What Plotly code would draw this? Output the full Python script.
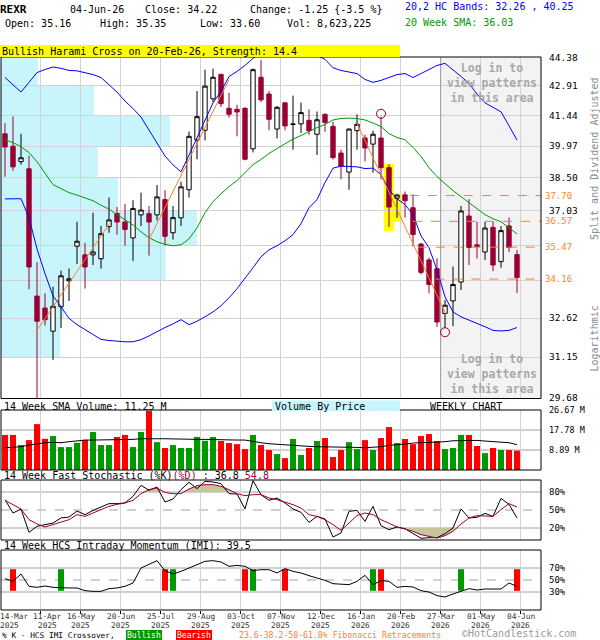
import numpy as np
import plotly.graph_objects as go

# ------------------------------------------------------------------ data
symbol = "REXR"
tick_labels = ["14-Mar", "11-Apr", "16-May", "20-Jun", "25-Jul", "29-Aug", "03-Oct",
               "07-Nov", "12-Dec", "16-Jan", "20-Feb", "27-Mar", "01-May", "04-Jun"]
tick_years = ["2025"] * 9 + ["2026"] * 5
tick_weeks = [0, 4, 9, 14, 19, 24, 29, 34, 39, 44, 49, 54, 59, 64]

open_ = [40.55, 39.96, 39.24, 38.91, 33.48, 33.01, 32.12, 33.06, 34.09, 35.51,
         35.15, 35.15, 34.99, 36.34, 36.91, 36.54, 35.86, 36.85, 36.90, 36.85,
         37.52, 36.08, 36.72, 37.96, 40.26, 40.72, 42.26, 43.50, 41.79, 41.74,
         41.79, 39.84, 43.35, 42.50, 40.78, 42.06, 41.00, 41.03, 41.20, 40.53,
         41.49, 40.91, 39.64, 38.76, 40.70, 40.35, 40.06, 40.35, 38.96, 37.58,
         37.73, 37.16, 35.60, 34.94, 34.58, 32.80, 33.29, 34.04, 36.80, 35.57,
         35.27, 36.31, 34.87, 36.37, 35.16]
high = [41.06, 41.39, 40.55, 39.52, 34.85, 33.59, 33.85, 34.50, 34.59, 36.55,
        35.65, 36.94, 36.37, 37.61, 37.19, 37.33, 37.49, 37.83, 37.24, 38.17,
        37.94, 37.24, 38.32, 40.66, 42.65, 43.74, 43.79, 43.52, 42.56, 41.96,
        41.85, 43.80, 44.23, 42.65, 41.90, 42.10, 42.42, 42.07, 41.73, 41.63,
        41.55, 41.13, 39.80, 40.80, 41.49, 40.50, 40.70, 41.38, 39.11, 37.76,
        37.88, 37.76, 35.65, 35.04, 35.01, 33.33, 34.67, 37.24, 37.54, 36.55,
        36.55, 36.55, 36.37, 36.73, 35.35]
low = [38.55, 38.82, 39.10, 33.75, 29.50, 32.34, 31.05, 32.24, 33.29, 34.77,
       33.78, 34.73, 34.58, 36.08, 36.00, 35.53, 34.90, 36.37, 35.12, 36.61,
       35.55, 35.79, 36.37, 37.61, 39.35, 40.24, 42.10, 41.86, 41.34, 40.43,
       39.30, 39.67, 42.10, 40.72, 40.33, 40.72, 39.80, 40.59, 40.50, 39.55,
       40.65, 39.34, 38.43, 37.96, 39.80, 39.25, 38.73, 38.43, 36.33, 36.73,
       36.73, 35.50, 34.34, 33.59, 32.28, 32.24, 32.31, 33.72, 34.73, 35.00,
       34.94, 34.48, 34.62, 35.27, 33.60]
close = [39.92, 39.00, 39.42, 34.65, 32.50, 32.56, 33.08, 34.29, 34.17, 35.72,
         34.65, 35.27, 36.04, 36.63, 36.54, 36.22, 37.13, 37.06, 36.54, 37.64,
         35.93, 36.73, 38.09, 40.43, 41.38, 42.90, 43.35, 42.02, 41.50, 41.61,
         39.35, 43.74, 42.21, 41.25, 41.84, 40.93, 41.02, 41.58, 40.70, 41.23,
         41.10, 39.43, 39.03, 40.78, 41.01, 39.88, 40.53, 38.96, 37.19, 37.72,
         37.47, 36.00, 34.43, 33.94, 32.47, 33.12, 33.94, 37.02, 35.46, 35.49,
         36.28, 34.73, 36.17, 35.46, 34.22]

volume_m = [15.6, 15.6, 11.1, 13.3, 20.4, 13.9, 15.1, 10.2, 10.2, 12.1,
            13.3, 16.9, 11.1, 11.1, 14.7, 15.6, 10.2, 16.9, 26.3, 12.4,
            9.8, 11.1, 9.8, 9.8, 14.7, 13.0, 14.7, 12.9, 12.0, 11.5,
            9.3, 15.6, 11.1, 8.9, 7.1, 5.3, 13.8, 6.7, 9.8, 12.9,
            14.2, 5.8, 8.9, 12.4, 9.3, 13.3, 8.9, 14.2, 19.1, 12.0,
            13.8, 11.5, 15.1, 16.0, 12.9, 9.3, 9.8, 15.6, 15.6, 10.7,
            7.5, 9.8, 8.9, 8.9, 8.62]
volume_sma_m = [9.92, 10.06, 10.36, 11.10, 11.69, 12.14, 12.28, 12.14, 12.58, 13.02,
                13.32, 13.32, 13.32, 13.32, 13.32, 13.47, 13.62, 13.91, 14.06, 13.91,
                13.91, 13.76, 13.62, 13.62, 13.62, 13.62, 13.47, 13.32, 13.32, 13.32,
                13.32, 12.58, 12.14, 11.69, 11.40, 11.40, 11.10, 10.80, 10.51, 10.36,
                10.36, 10.36, 10.21, 10.06, 10.06, 9.92, 10.06, 10.36, 10.95, 11.10,
                11.54, 11.99, 12.14, 12.28, 12.28, 12.58, 13.02, 13.17, 13.17, 13.17,
                12.88, 12.58, 12.43, 12.14, 11.25]

hc_upper = [43.34, 42.97, 42.60, 43.09, 43.59, 43.75, 43.88, 43.81, 43.70, 43.68,
            43.59, 43.49, 43.34, 42.99, 42.60, 42.15, 41.78, 41.36, 40.71, 40.09,
            39.50, 39.09, 38.77, 39.54, 40.37, 41.28, 42.06, 42.64, 43.39, 43.65,
            43.96, 44.33, 44.60, 44.90, 45.10, 45.20, 45.10, 44.90, 44.70, 44.50,
            44.28, 43.84, 43.70, 43.62, 43.54, 43.24, 43.09, 43.19, 43.34, 43.49,
            43.54, 43.34, 43.54, 43.75, 43.96, 44.07, 43.75, 43.39, 43.04, 42.50,
            42.06, 41.86, 41.62, 40.94, 40.25]
hc_lower = [37.55, 37.54, 37.56, 36.72, 35.40, 34.38, 33.49, 33.06, 32.61, 32.37,
            32.18, 31.98, 31.81, 31.77, 31.74, 31.72, 31.72, 31.80, 31.94, 32.11,
            32.26, 32.40, 32.56, 32.37, 32.50, 32.67, 32.86, 33.10, 33.41, 33.77,
            34.17, 34.62, 35.07, 35.36, 35.53, 35.74, 36.00, 36.47, 37.16, 37.52,
            38.28, 38.94, 39.03, 39.03, 39.00, 38.92, 38.94, 38.64, 37.96, 37.56,
            37.30, 36.86, 35.95, 35.45, 34.53, 33.45, 32.86, 32.67, 32.54, 32.44,
            32.29, 32.15, 32.13, 32.15, 32.26]
sma20 = [40.27, 40.13, 39.94, 39.66, 39.24, 38.69, 38.19, 38.01, 37.83, 37.72,
         37.61, 37.47, 37.27, 37.10, 36.86, 36.64, 36.42, 36.12, 35.87, 35.70,
         35.59, 35.53, 35.57, 35.82, 36.29, 36.94, 37.43, 37.78, 38.10, 38.37,
         38.74, 39.10, 39.34, 39.62, 39.85, 40.09, 40.30, 40.47, 40.66, 40.85,
         41.00, 41.22, 41.29, 41.31, 41.29, 41.22, 41.07, 40.90, 40.56, 40.37,
         40.27, 39.90, 39.48, 38.96, 38.55, 38.23, 37.92, 37.65, 37.38, 37.12,
         36.86, 36.68, 36.55, 36.29, 36.03]

stoch_k = [67.2, 45.0, 51.7, 12.8, 22.8, 25.6, 28.3, 36.7, 38.3, 48.3,
           42.2, 49.4, 55.0, 60.6, 60.6, 61.7, 72.8, 91.1, 82.8, 88.3,
           63.3, 68.3, 83.9, 96.1, 85.6, 97.8, 96.7, 93.9, 77.2, 76.7,
           51.7, 98.9, 75.6, 66.1, 70.0, 61.7, 51.7, 46.1, 29.4, 39.4,
           35.0, 5.0, 11.7, 47.8, 49.4, 31.1, 56.1, 23.9, 17.2, 21.7,
           18.9, 10.6, 2.8, 3.9, 3.9, 10.6, 20.0, 51.7, 36.7, 37.8,
           44.4, 39.4, 69.4, 59.4, 36.8]
stoch_d = [66.1, 58.9, 51.7, 33.9, 26.7, 21.7, 25.6, 29.4, 33.9, 42.2,
           39.4, 45.0, 50.6, 56.1, 59.4, 61.7, 66.1, 77.2, 83.9, 86.7,
           79.4, 77.2, 77.2, 85.0, 90.6, 92.2, 92.2, 89.4, 83.9, 77.2,
           73.9, 75.6, 75.6, 70.0, 67.2, 63.3, 58.9, 53.3, 42.2, 39.4,
           33.9, 25.6, 16.1, 28.3, 40.6, 45.0, 42.2, 33.9, 27.2, 21.7,
           18.3, 14.4, 8.9, 6.1, 3.3, 7.2, 14.4, 26.7, 36.7, 40.6,
           40.6, 39.4, 50.6, 60.6, 54.8]
imi = [52.2, 47.8, 60.0, 39.4, 37.8, 40.0, 37.8, 36.7, 36.7, 36.7,
       32.2, 31.1, 31.1, 35.6, 36.7, 39.4, 45.0, 70.0, 75.6, 82.2,
       65.6, 60.0, 64.4, 70.0, 75.6, 81.1, 82.2, 80.0, 72.8, 74.4,
       72.8, 65.6, 67.2, 67.2, 61.7, 68.9, 64.4, 61.7, 57.2, 53.3,
       49.4, 43.9, 43.3, 42.2, 47.8, 57.8, 42.2, 48.9, 47.8, 37.8,
       39.4, 38.3, 32.2, 30.0, 23.9, 21.7, 26.7, 31.1, 35.6, 33.3,
       35.0, 35.0, 35.0, 45.0, 39.5]
imi_bull_weeks = [7, 21, 31, 46, 57]
imi_bear_weeks = [1, 20, 30, 35, 47, 64]

fib_levels = [37.70, 36.57, 35.47, 34.16]
fib_start_week = [50.6, 51.0, 51.6, 53.8]
trend_weeks = [[3.875, 13.125], [17.875, 28.0], [44.0, 55.1]]
trend_prices = [[32.10, 36.50], [35.71, 43.24], [41.05, 32.78]]
pattern_weeks = [48, 49]
signal_weeks = [47, 55]
signal_prices = [41.52, 32.08]

price_ticks = [44.38, 42.91, 41.44, 39.97, 38.50, 37.03, 35.56, 34.09, 32.62, 31.15, 29.68]
price_tick_text = ["44.38", "42.91", "41.44", "39.97", "38.50", "37.03", "", "", "32.62", "31.15", "29.68"]
vbp_len = [4.6, 11.6, 21.1, 12.1, 14.6, 24.5, 20.6, 7.9, 7.4, 0.0]
locked_from_week = 54.46

# ------------------------------------------------------------------ styles
MONO = "DejaVu Sans Mono"
CRIMSON = "#990033"
BLUE = "#0000FF"
GREEN = "#009900"
ORANGE = "#FF7F27"
VRED = "#FF0000"
VGREEN = "#009900"
GRID = "#D3D3D3"
DGRID = "#A0A0A0"
CYAN = "#C8F4FC"
STFILL = "#C9C59A"

W, H = 600, 640
ML, MR, MT, MB = 1, 59, 57, 30
PW, PH = W - ML - MR, H - MT - MB
XR = [-0.5, 67.0]
YR_MAIN = [29.68, 44.38]


def px(x):
    return (x - ML) / PW


def py(y):
    return (H - MB - y) / PH


main_dom = [py(398.5), py(57)]
vol_dom = [py(470), py(410)]
sto_dom = [py(540), py(480)]
imi_dom = [py(610), py(550)]

weeks = list(range(len(close)))
grid_x = [w + 0.46 for w in tick_weeks[1:]]

fig = go.Figure()

# ------------------------------------------------------------------ main price panel
fig.add_trace(go.Candlestick(
    x=weeks, open=open_, high=high, low=low, close=close,
    increasing=dict(line=dict(color="black", width=1), fillcolor="white"),
    decreasing=dict(line=dict(color=CRIMSON, width=1), fillcolor=CRIMSON),
    whiskerwidth=0, xaxis="x", yaxis="y", hoverinfo="skip"))

fig.add_trace(go.Scatter(x=[locked_from_week, locked_from_week], y=YR_MAIN, mode="lines",
                         line=dict(color="#9A9A9A", width=1), xaxis="x", yaxis="y"))

for series, col in [(hc_upper, BLUE), (hc_lower, BLUE), (sma20, GREEN)]:
    fig.add_trace(go.Scatter(x=weeks, y=series, mode="lines",
                             line=dict(color=col, width=1), xaxis="x", yaxis="y"))

for tw, tp in zip(trend_weeks, trend_prices):
    fig.add_trace(go.Scatter(x=tw, y=tp, mode="lines", line=dict(color=ORANGE, width=1),
                             xaxis="x", yaxis="y"))

for lvl, st in zip(fib_levels, fib_start_week):
    fig.add_trace(go.Scatter(x=[st, XR[1]], y=[lvl, lvl], mode="lines",
                             line=dict(color=ORANGE, width=1, dash="dash"),
                             xaxis="x", yaxis="y"))

fig.add_trace(go.Scatter(x=signal_weeks, y=signal_prices, mode="markers",
                         marker=dict(symbol="circle-open", size=9,
                                     line=dict(color=CRIMSON, width=1), color=CRIMSON),
                         xaxis="x", yaxis="y"))

# ------------------------------------------------------------------ volume panel
vcols = [VGREEN if c >= o else VRED for o, c in zip(open_, close)]
fig.add_trace(go.Bar(x=weeks, y=volume_m, marker=dict(color=vcols, line=dict(width=0)),
                     width=0.75, xaxis="x", yaxis="y2"))
fig.add_trace(go.Scatter(x=weeks, y=volume_sma_m, mode="lines",
                         line=dict(color="black", width=1), xaxis="x", yaxis="y2"))


# ------------------------------------------------------------------ stochastic panel
def cross_polys(xv, yv, level, above):
    polys, cur = [], None

    def ins(v):
        return v > level if above else v < level

    for k in range(len(xv)):
        if k > 0 and ins(yv[k]) != ins(yv[k - 1]):
            t = (level - yv[k - 1]) / (yv[k] - yv[k - 1])
            xc = xv[k - 1] + t * (xv[k] - xv[k - 1])
            if ins(yv[k]):
                cur = [(xc, level)]
            else:
                cur.append((xc, level))
                polys.append(cur)
                cur = None
        if ins(yv[k]):
            if cur is None:
                cur = [(xv[k], level)]
            cur.append((xv[k], yv[k]))
    if cur is not None:
        cur.append((xv[-1], level))
        polys.append(cur)
    return polys


for lvl, ab in [(80, True), (20, False)]:
    for poly in cross_polys(weeks, stoch_d, lvl, ab):
        fig.add_trace(go.Scatter(x=[p[0] for p in poly], y=[p[1] for p in poly],
                                 mode="lines", fill="toself", fillcolor=STFILL,
                                 line=dict(width=0, color="rgba(0,0,0,0)"),
                                 xaxis="x", yaxis="y3"))

fig.add_trace(go.Scatter(x=weeks, y=stoch_k, mode="lines", line=dict(color="black", width=1),
                         xaxis="x", yaxis="y3"))
fig.add_trace(go.Scatter(x=weeks, y=stoch_d, mode="lines", line=dict(color=CRIMSON, width=1),
                         xaxis="x", yaxis="y3"))

# ------------------------------------------------------------------ IMI panel
ev_w = imi_bull_weeks + imi_bear_weeks
ev_c = [VGREEN] * len(imi_bull_weeks) + [VRED] * len(imi_bear_weeks)
fig.add_trace(go.Bar(x=ev_w, y=[36] * len(ev_w), base=[32] * len(ev_w), width=0.75,
                     marker=dict(color=ev_c, line=dict(width=0)), xaxis="x", yaxis="y4"))
fig.add_trace(go.Scatter(x=weeks, y=imi, mode="lines", line=dict(color="black", width=1),
                         xaxis="x", yaxis="y4"))

# ------------------------------------------------------------------ shapes
shapes = []
for k, ln in enumerate(vbp_len):
    if ln <= 0:
        continue
    shapes.append(dict(type="rect", xref="x", yref="y", x0=XR[0], x1=XR[0] + ln,
                       y0=price_ticks[k + 1], y1=price_ticks[k], fillcolor=CYAN,
                       line=dict(width=0), layer="below"))
shapes.append(dict(type="rect", xref="x", yref="y", x0=locked_from_week, x1=XR[1],
                   y0=YR_MAIN[0], y1=YR_MAIN[1], fillcolor="#F3F3F3", line=dict(width=0),
                   layer="below"))
for w in pattern_weeks:
    shapes.append(dict(type="rect", xref="x", yref="y", x0=w - 0.65, x1=w + 0.6,
                       y0=low[w] * 0.995, y1=high[w] * 1.001, fillcolor="#FFFF00",
                       line=dict(width=0), layer="below"))
for yr, lv, dash in [("y2", 17.78, "solid"), ("y2", 8.89, "solid"),
                     ("y3", 80, "solid"), ("y3", 20, "solid"), ("y3", 50, "dash"),
                     ("y4", 70, "solid"), ("y4", 30, "solid"), ("y4", 50, "dash")]:
    shapes.append(dict(type="line", xref="x", yref=yr, x0=XR[0], x1=XR[1], y0=lv, y1=lv,
                       line=dict(color=DGRID, width=1, dash=dash), layer="below"))
for dom in [main_dom, vol_dom, sto_dom, imi_dom]:
    shapes.append(dict(type="rect", xref="paper", yref="paper", x0=0, x1=1, y0=dom[0], y1=dom[1],
                       line=dict(color="black", width=1), fillcolor="rgba(0,0,0,0)", layer="above"))
shapes.append(dict(type="rect", xref="paper", yref="paper", x0=px(0), x1=px(400),
                   y0=py(57), y1=py(45), fillcolor="#FFFF00", line=dict(width=0), layer="above"))
shapes.append(dict(type="rect", xref="paper", yref="paper", x0=px(272), x1=px(400),
                   y0=py(411), y1=py(400.5), fillcolor=CYAN, line=dict(width=0), layer="above"))

# ------------------------------------------------------------------ annotations
ann = []


def txt(x, y, s, size=10, color="black", xanchor="left", yanchor="middle", **kw):
    d = dict(x=px(x), y=py(y), xref="paper", yref="paper", text=s, showarrow=False,
             xanchor=xanchor, yanchor=yanchor, borderpad=0, borderwidth=0,
             font=dict(family=MONO, size=size, color=color))
    d.update(kw)
    ann.append(d)


txt(0, 9, "<b>%s</b>" % symbol, size=11)
txt(70, 9, "04-Jun-26")
txt(145, 9, "Close: 34.22")
txt(250, 9, "Change: -1.25 {-3.5 %}")
txt(405, 7, "20,2 HC Bands: 32.26 , 40.25", color=BLUE)
txt(5, 24, "Open: 35.16")
txt(100, 24, "High: 35.35")
txt(200, 24, "Low: 33.60")
txt(287, 24, "Vol: 8,623,225")
txt(405, 22, "20 Week SMA: 36.03", color=GREEN)
txt(2, 51.5, "Bullish Harami Cross on 20-Feb-26, Strength: 14.4")

txt(447, 82.5, "<b>Log in to<br>view patterns<br>in this area</b>", size=11.5, color="#A8A8A8")
txt(447, 374, "<b>Log in to<br>view patterns<br>in this area</b>", size=11.5, color="#A8A8A8")

for lvl in fib_levels:
    ann.append(dict(x=px(545), y=np.log10(lvl), xref="paper", yref="y", text="%.2f" % lvl,
                    showarrow=False, xanchor="left", yanchor="middle", borderpad=0, borderwidth=0,
                    font=dict(family=MONO, size=9, color=ORANGE)))

txt(594, 159, "Split and Dividend Adjusted", color="#8A8A8A", xanchor="center", textangle=-90)
txt(594, 338.5, "Logarithmic", color="#8A8A8A", xanchor="center", textangle=-90)

txt(4, 406, "14 Week SMA Volume: 11.25 M")
txt(275, 406, "Volume By Price")
txt(430, 406, "WEEKLY CHART")
txt(4, 475.5, "14 Week Fast Stochastic (%K)<span style='color:#990033'>(%D)</span> : 36.8 "
              "<span style='color:#990033'>54.8</span>")
txt(4, 545.5, "14 Week HCS Intraday Momentum (IMI): 39.5")

DFONT = dict(family=MONO, size=7.8, color="#333333")
for k, (lab, yr, w) in enumerate(zip(tick_labels, tick_years, tick_weeks)):
    for s, yy in [(lab, 616.5), (yr, 625.5)]:
        if k == 0:
            txt(0, yy, s, size=7.8, color="#333333")
        else:
            xpos = w + (1.25 if k == 1 else 0.46)
            ann.append(dict(x=xpos, y=py(yy), xref="x", yref="paper", text=s, showarrow=False,
                            xanchor="center", yanchor="middle", borderpad=0, borderwidth=0,
                            font=DFONT))

txt(2, 635, "% K - HCS IMI Crossover,", size=7.8)
txt(126, 635, "Bullish", size=8, color="white", bgcolor=VGREEN, borderpad=1)
txt(176, 635, "Bearish", size=8, color="white", bgcolor=VRED, borderpad=1)
txt(239, 635, "23.6-38.2-50-61.8% Fibonacci Retracements", size=8.2, color=ORANGE)
txt(462, 633.5, "\u00a9HotCandlestick.com", size=10, color="#9A9A9A")

# ------------------------------------------------------------------ layout
tickf = dict(family=MONO, size=9.5, color="black")
common_y = dict(anchor="x", side="right", zeroline=False, showline=False, ticks="",
                ticklabelstandoff=7, fixedrange=True)
fig.update_layout(
    width=W, height=H, margin=dict(l=ML, r=MR, t=MT, b=MB),
    paper_bgcolor="white", plot_bgcolor="white", showlegend=False, hovermode=False,
    boxgap=0.22, barmode="overlay",
    font=dict(family=MONO, size=10, color="black"),
    xaxis=dict(domain=[0, 1], anchor="y4", range=XR, tickvals=grid_x,
               showticklabels=False, ticks="outside", ticklen=3, tickcolor="black",
               showgrid=True, gridcolor=GRID, gridwidth=1, zeroline=False, showline=False,
               rangeslider=dict(visible=False), fixedrange=True),
    yaxis=dict(domain=main_dom, type="log",
               range=[np.log10(YR_MAIN[0]) - 2e-4, np.log10(YR_MAIN[1]) + 2e-4],
               tickvals=price_ticks, ticktext=price_tick_text, showgrid=True, gridcolor=GRID,
               gridwidth=1, tickfont=tickf, **common_y),
    yaxis2=dict(domain=vol_dom, range=[0, 26.67 * 1.001], tickvals=[26.67, 17.78, 8.89],
                ticktext=["26.67 M", "17.78 M", "8.89 M"], showgrid=False,
                tickfont=dict(family=MONO, size=8.5, color="black"), **common_y),
    yaxis3=dict(domain=sto_dom, range=[0, 100], tickvals=[80, 50, 20],
                ticktext=["80%", "50%", "20%"], showgrid=False,
                tickfont=dict(family=MONO, size=9, color="black"), **common_y),
    yaxis4=dict(domain=imi_dom, range=[0, 100], tickvals=[70, 50, 30],
                ticktext=["70%", "50%", "30%"], showgrid=False,
                tickfont=dict(family=MONO, size=9, color="black"), **common_y),
    shapes=shapes, annotations=ann,
)

fig.write_html("out.html", config={"displayModeBar": False},
               post_script="document.body.style.margin='0';document.body.style.overflow='hidden';")
